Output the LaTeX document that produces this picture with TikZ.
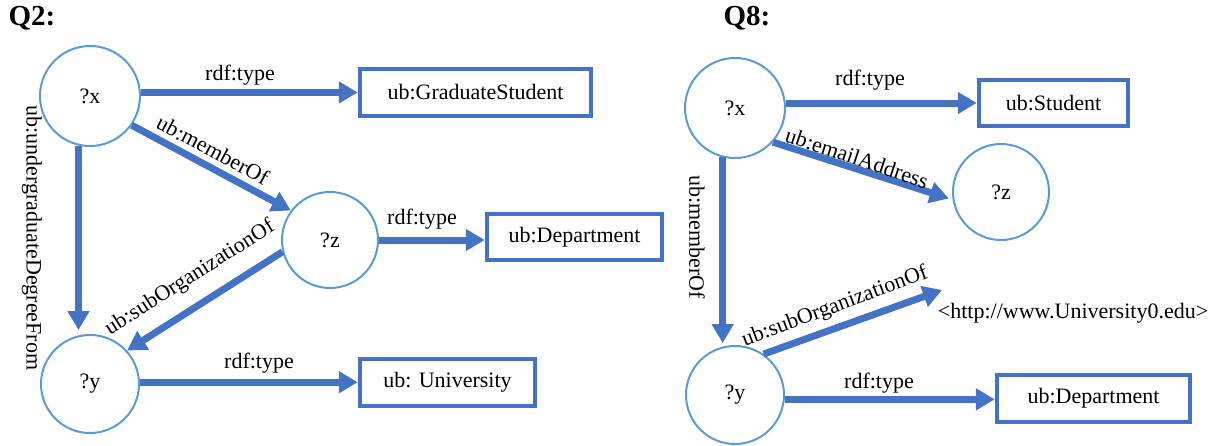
\documentclass[tikz,border=0pt]{standalone}
\usepackage{fontspec}
\setmainfont{Liberation Serif}
\usetikzlibrary{arrows.meta}
\definecolor{arrowblue}{HTML}{4472C4}
\definecolor{ringblue}{HTML}{5B9BD5}
\tikzset{
  var/.style={circle, draw=ringblue, line width=2pt, inner sep=0pt, font=\fontsize{22}{26}\selectfont},
  cls/.style={rectangle, draw=arrowblue, line width=4.5pt, inner sep=0pt, font=\fontsize{22}{26}\selectfont},
  arr/.style={draw=arrowblue, line width=7pt, -{Triangle[length=19pt,width=21pt]}},
  lbl/.style={inner sep=1pt, font=\fontsize{22}{26}\selectfont},
  qtitle/.style={inner sep=0pt, font=\bfseries\fontsize{29}{32}\selectfont}
}
\begin{document}
\begin{tikzpicture}[x=1pt, y=-1pt]
\useasboundingbox (0,0) rectangle (1217,445);

% ---------- Q2 ----------
\node[qtitle] (q2) at (32,18) {Q2:};
\node[var, minimum size=100pt] (xA) at (90,96) {?x};
\node[var, minimum size=96pt] (zA) at (330,240) {?z};
\node[var, minimum size=98pt] (yA) at (90,384) {?y};
\node[cls, minimum width=231pt, minimum height=47pt] (gs) at (475.5,92.5) {ub:GraduateStudent};
\node[cls, minimum width=175pt, minimum height=46pt] (dept) at (574.5,237) {ub:Department};
\node[cls, minimum width=175pt, minimum height=47pt] (univ) at (447.5,382.5) {ub: University};

\draw[arr] (xA.4) -- (xA.4 -| gs.west);
\draw[arr] (xA.-35) -- (zA.143);
\draw[arr, shorten >=4pt] (xA.-103) -- (xA.-103 |- yA.north);
\draw[arr] (zA.194) -- (yA.42);
\draw[arr] (zA.east) -- (zA.east -| dept.west);
\draw[arr] (yA.2) -- (yA.2 -| univ.west);

\node[lbl] (lA1) at (240,75) {rdf:type};
\node[lbl, rotate=-28] (lA2) at (213,150) {ub:memberOf};
\node[lbl, rotate=-90] (lA3) at (32,238) {ub:undergraduateDegreeFrom};
\node[lbl, rotate=32.5] (lA4) at (190,278) {ub:subOrganizationOf};
\node[lbl] (lA5) at (422,219) {rdf:type};
\node[lbl] (lA6) at (259,363) {rdf:type};

% ---------- Q8 ----------
\node[qtitle] (q8) at (747,18) {Q8:};
\node[var, minimum size=100pt] (xB) at (735,108) {?x};
\node[var, minimum size=96pt] (zB) at (1001,192) {?z};
\node[var, minimum size=98pt] (yB) at (735,395) {?y};
\node[cls, minimum width=149pt, minimum height=46pt] (stud) at (1053.5,103) {ub:Student};
\node[cls, minimum width=193pt, minimum height=47pt] (deptB) at (1093.5,398.5) {ub:Department};
\node[lbl] (url) at (1073,313) {<http://www.University0.edu>};
\coordinate (urltip) at (942,290);

\draw[arr] (xB.east |- stud.west) -- (stud.west);
\draw[arr, shorten >=4pt] (xB.-42) -- (zB.189);
\draw[arr, shorten >=2pt] (xB.-104) -- (xB.-104 |- yB.north);
\draw[arr] (yB.55) -- (urltip);
\draw[arr] (yB.-5) -- (yB.-5 -| deptB.west);

\node[lbl] (lB1) at (870,80) {rdf:type};
\node[lbl, rotate=-18.6] (lB2) at (857,158) {ub:emailAddress};
\node[lbl, rotate=-90] (lB3) at (697,237) {ub:memberOf};
\node[lbl, rotate=20.4] (lB4) at (835,307) {ub:subOrganizationOf};
\node[lbl] (lB5) at (879,383) {rdf:type};
\end{tikzpicture}
\end{document}
